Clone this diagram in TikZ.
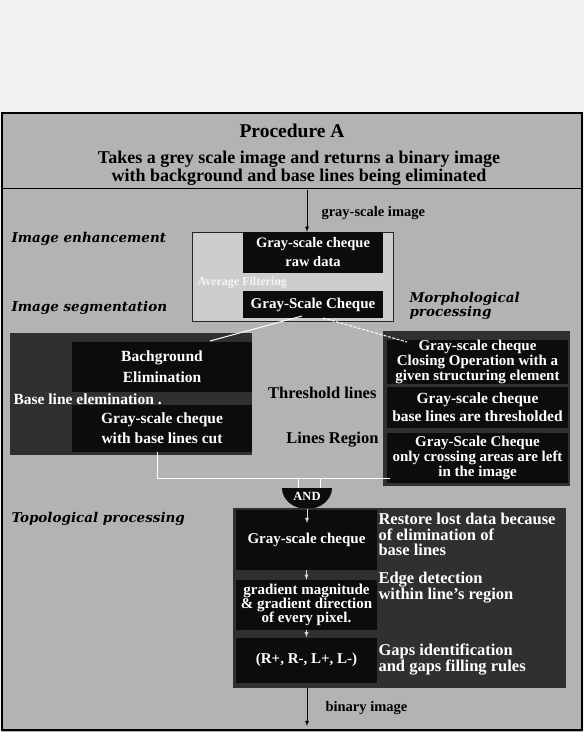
\documentclass[tikz,border=0pt]{standalone}
\usepackage{fontspec}
\setmainfont{Liberation Serif}
\newfontfamily\headfont{DejaVu Serif}
\definecolor{paper}{HTML}{F1F1F1}
\definecolor{screen}{HTML}{B3B3B3}
\definecolor{lightscreen}{HTML}{CDCDCD}
\definecolor{darkscreen}{HTML}{303030}
\definecolor{ink}{HTML}{0C0C0C}
\tikzset{
  blackbox/.style={fill=ink, text=white, inner sep=0pt, align=center},
  darkbox/.style={fill=darkscreen, inner sep=0pt},
  stage/.style={anchor=west, font=\headfont\bfseries\itshape\fontsize{13.5}{12.5}\selectfont},
  flowlabel/.style={anchor=west, font=\bfseries\fontsize{14.5}{14.5}\selectfont},
  wire/.style={white, line width=1pt}
}
\begin{document}
\begin{tikzpicture}[x=1pt,y=-1pt]
\useasboundingbox (0,0) rectangle (584,732);
\fill [paper] (0,0) rectangle (584,732);
\fill [screen] (2,113) rectangle (582,732);
\draw [line width=1.6pt] (2,731) -- (2,113) -- (582,113) -- (582,731);
\draw [line width=1.2pt] (2,730) -- (582,730);
\draw [line width=0.9pt] (2,188) -- (582,188);
% header
\node [font=\bfseries\fontsize{19.5}{20}\selectfont] (title) at (292,131) {Procedure A};
\node [font=\bfseries\fontsize{18}{17.5}\selectfont, align=center] (aim) at (299,168) {Takes a grey scale image and returns a binary image\\with background and base lines being eliminated};
% stages
\node [stage] (st1) at (8,239) {Image enhancement};
\node [stage] (st2) at (8,308) {Image segmentation};
\node [stage, align=left] (st3) at (406,306) {Morphological\\processing};
\node [stage] (st4) at (8,519) {Topological processing};
% enhancement
\node [draw=black!85, fill=lightscreen, minimum width=201pt, minimum height=89pt, inner sep=0pt] (enh) at (292.5,276.5) {};
\node [blackbox, minimum width=140pt, minimum height=41pt, font=\bfseries\fontsize{14.5}{19}\selectfont] (raw) at (313,252.5) {Gray-scale cheque\\raw data};
\node [blackbox, minimum width=140pt, minimum height=27pt, font=\bfseries\fontsize{15}{15}\selectfont] (seg) at (313,304.5) {Gray-Scale Cheque};
\node [anchor=west, text=white!80!lightscreen, font=\bfseries\fontsize{12}{12}\selectfont] (avg) at (194,283) {Average Filtering};
\coordinate (in) at (307,190);
\draw [->,>=latex,line width=0.8pt] (in) -- (in |- raw.north);
\node [flowlabel] (inlabel) at (318,213) {gray-scale image};
% base line elimination
\node [darkbox, minimum width=242pt, minimum height=122pt] (base) at (131,394) {};
\node [blackbox, minimum width=180pt, minimum height=50pt, font=\bfseries\fontsize{15.5}{21}\selectfont] (bg) at (162,367) {Bachground\\Elimination};
\node [blackbox, minimum width=180pt, minimum height=47pt, font=\bfseries\fontsize{15.5}{20}\selectfont] (cut) at (162,428.5) {Gray-scale cheque\\with base lines cut};
\node [anchor=west, text=white, font=\bfseries\fontsize{15.5}{15}\selectfont] (baselab) at (10,399) {Base line elemination .};
% morphological processing
\node [darkbox, minimum width=187pt, minimum height=155pt] (morph) at (476.5,408.5) {};
\node [blackbox, minimum width=181pt, minimum height=41pt, font=\bfseries\fontsize{15}{12.5}\selectfont] (close) at (477.5,362) {Gray-scale cheque\\Closing Operation with a\\given structuring element};
\node [blackbox, minimum width=181pt, minimum height=41pt, font=\bfseries\fontsize{15.5}{18}\selectfont] (thres) at (477.5,407) {Gray-scale cheque\\base lines are thresholded};
\node [blackbox, minimum width=181pt, minimum height=50pt, font=\bfseries\fontsize{15}{12.5}\selectfont] (cross) at (477.5,458) {Gray-Scale Cheque\\only crossing areas are left\\in the image};
\node [anchor=east, font=\bfseries\fontsize{16.5}{16}\selectfont] (thlab) at (380,393) {Threshold lines};
\node [anchor=east, font=\bfseries\fontsize{16.5}{16}\selectfont] (lrlab) at (382,440) {Lines Region};
% white links
\coordinate (bgin) at (210,341);
\coordinate (closein) at (407,342);
\draw [wire] (302,316) -- (bgin);
\draw [wire, dash pattern=on 3pt off 1.5pt] (323,318) -- (closein);
\coordinate (cutout) at (157,452);
\coordinate (join) at (157,478);
\coordinate (crossin) at (390,478);
\draw [wire] (cutout) -- (join) -- (crossin);
% AND
\fill [ink] (282,488) arc [start angle=180, end angle=360, x radius=25pt, y radius=21pt] -- cycle;
\node [text=white, font=\bfseries\fontsize{12.5}{12.5}\selectfont] (and) at (307,496) {AND};
\draw [wire] (298,478) -- (298,488);
\draw [wire] (320,478) -- (320,488);
% topological processing
\node [darkbox, minimum width=333pt, minimum height=180pt] (topo) at (399.5,598) {};
\node [blackbox, minimum width=141pt, minimum height=60pt, font=\bfseries\fontsize{15}{15}\selectfont] (gray) at (306.5,540) {Gray-scale cheque};
\node [blackbox, minimum width=141pt, minimum height=50pt, font=\bfseries\fontsize{15}{14}\selectfont] (grad) at (306.5,605) {gradient magnitude\\\& gradient direction\\of every pixel.};
\node [blackbox, minimum width=141pt, minimum height=45pt, font=\bfseries\fontsize{15}{15}\selectfont] (rules) at (306.5,660) {(R+, R-, L+, L-)};
\node [anchor=west, align=left, text=white, font=\bfseries\fontsize{16.5}{15.5}\selectfont] (restore) at (375,534.5) {Restore lost data because\\of elimination of\\ base lines};
\node [anchor=west, align=left, text=white, font=\bfseries\fontsize{16.5}{16}\selectfont] (edge) at (375,588) {Edge detection\\within line's region};
\node [anchor=west, align=left, text=white, font=\bfseries\fontsize{16.5}{16}\selectfont] (gaps) at (375,660) {Gaps identification\\and gaps filling rules};
\draw [->,>=latex,white!85!black,line width=0.8pt] (and.south |- 509,509) -- (307,523);
\draw [->,>=latex,white!85!black,line width=0.8pt] (gray.south) -- (grad.north);
\draw [->,>=latex,white!85!black,line width=0.8pt] (grad.south) -- (rules.north);
\coordinate (out) at (307,726);
\draw [->,>=latex,line width=0.8pt] (topo.south -| out) -- (out);
\node [flowlabel] (outlabel) at (322,708) {binary image};
\end{tikzpicture}
\end{document}
